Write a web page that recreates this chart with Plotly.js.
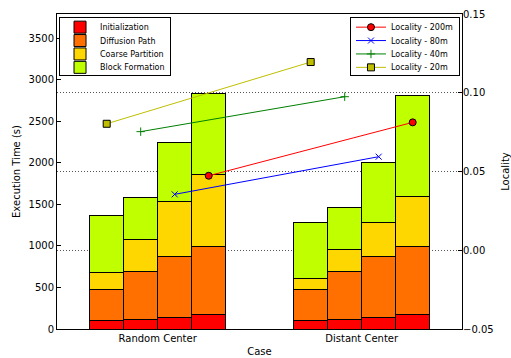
<!DOCTYPE html>
<html>
<head>
<meta charset="utf-8">
<script src="https://cdn.plot.ly/plotly-3.0.1.min.js"></script>
<style>
  html, body { margin: 0; padding: 0; background: #fff; }
  #chart { width: 511px; height: 358px; }
</style>
</head>
<body>
<div id="chart"></div>
<script>
// Cases on the x axis
const cases = ['Random Center', 'Distant Center'];
// Locality radius of the four runs in each case (one bar per run)
const radii = ['20m', '40m', '80m', '200m'];

// Execution time per phase (s), one array per case, runs in order 20m, 40m, 80m, 200m
const initRandom    = [100, 120, 144, 172];
const initDistant   = [100, 120, 144, 172];
const diffRandom    = [381, 574, 730, 826];
const diffDistant   = [381, 574, 730, 826];
const coarseRandom  = [196, 385, 657, 862];
const coarseDistant = [129, 268, 413, 593];
const blockRandom   = [687, 505, 714, 975];
const blockDistant  = [673, 505, 713, 1220];

// Locality per radius: [Random Center, Distant Center]
const loc200 = [0.0473, 0.0812];
const loc80  = [0.0355, 0.0594];
const loc40  = [0.0753, 0.0975];
const loc20  = [0.0803, 0.1195];

const barWidth = 1 / 6;
const offsets = radii.map((_, i) => (i - 1.5) * barWidth);
const barX = [];
cases.forEach((_, c) => offsets.forEach(o => barX.push(c + o)));

const font = 'DejaVu Sans, sans-serif';

function phase(name, a, b, color) {
  return {
    type: 'bar', name: name, x: barX, y: a.concat(b), width: barWidth,
    marker: { color: color, line: { color: '#000', width: 1 } },
    legend: 'legend', hoverinfo: 'name+y'
  };
}

function locality(name, vals, idx, color, symbol, msize, mline) {
  return {
    type: 'scatter', mode: 'lines+markers', name: name,
    x: cases.map((_, c) => c + offsets[idx]), y: vals, yaxis: 'y2',
    line: { color: color, width: 1 },
    marker: { color: color, symbol: symbol, size: msize, line: mline },
    legend: 'legend2'
  };
}

const data = [
  phase('Initialization', initRandom, initDistant, '#ff0000'),
  phase('Diffusion Path', diffRandom, diffDistant, '#ff7000'),
  phase('Coarse Partition', coarseRandom, coarseDistant, '#ffd700'),
  phase('Block Formation', blockRandom, blockDistant, '#bfff00'),
  locality('Locality - 200m', loc200, 3, '#ff0000', 'circle', 7, { color: '#000', width: 1 }),
  locality('Locality - 80m', loc80, 2, '#0000ff', 'x-thin', 6, { color: '#0000ff', width: 1 }),
  locality('Locality - 40m', loc40, 1, '#008000', 'cross-thin', 6, { color: '#008000', width: 1 }),
  locality('Locality - 20m', loc20, 0, '#bfbf00', 'square', 7, { color: '#000', width: 1 })
];

const layout = {
  width: 511, height: 358,
  margin: { l: 57, r: 49, t: 14, b: 29 },
  paper_bgcolor: '#fff', plot_bgcolor: '#fff',
  font: { family: font, size: 10, color: '#000' },
  barmode: 'stack',
  showlegend: true,
  xaxis: {
    range: [-0.4936, 1.4917],
    tickvals: [0, 1], ticktext: cases,
    ticks: '', showgrid: false, zeroline: false,
    showline: true, mirror: true, linecolor: '#000', linewidth: 1,
    tickfont: { size: 10 },
    title: { text: 'Case', font: { size: 10 }, standoff: 4 }
  },
  yaxis: {
    range: [0, 3790], dtick: 500,
    ticks: 'inside', ticklen: 4, tickcolor: '#000',
    showgrid: false, zeroline: false,
    showline: true, mirror: true, linecolor: '#000', linewidth: 1,
    tickfont: { size: 10 },
    title: { text: 'Execution Time (s)', font: { size: 10 }, standoff: 6 }
  },
  yaxis2: {
    overlaying: 'y', side: 'right',
    range: [-0.05, 0.15], dtick: 0.05, tickformat: '.2f',
    ticks: 'inside', ticklen: 4, tickcolor: '#000',
    showgrid: true, gridcolor: '#555', griddash: '1px,2px', gridwidth: 1,
    zeroline: false, showline: false,
    tickfont: { size: 10 },
    title: { text: 'Locality', font: { size: 10 }, standoff: 12 }
  },
  legend: {
    x: 0.005, y: 0.99, xanchor: 'left', yanchor: 'top',
    bgcolor: '#fff', bordercolor: '#000', borderwidth: 1,
    font: { size: 8 }, traceorder: 'normal', tracegroupgap: 0
  },
  legend2: {
    x: 0.995, y: 0.99, xanchor: 'right', yanchor: 'top',
    bgcolor: '#fff', bordercolor: '#000', borderwidth: 1,
    font: { size: 8 }, traceorder: 'normal', tracegroupgap: 0
  }
};

// Tighter legend rows than Plotly's minimum entry height
function compactLegends(gd) {
  const step = 13.4, lift = 5.5, boxH = 58;
  gd.querySelectorAll('g.legend, g.legend2').forEach(leg => {
    const items = leg.querySelectorAll('g.traces');
    if (!items.length) return;
    const parse = el => {
      const m = /translate\(\s*([-\d.e]+)[ ,]+([-\d.e]+)\s*\)/.exec(el.getAttribute('transform') || '');
      return m ? [parseFloat(m[1]), parseFloat(m[2])] : [0, 0];
    };
    const y0 = parse(items[0])[1];
    items.forEach((it, i) => {
      const p = parse(it);
      it.setAttribute('transform', 'translate(' + p[0] + ',' + (y0 - lift + i * step) + ')');
    });
    leg.querySelectorAll('rect.bg').forEach(bg => bg.setAttribute('height', boxH));
  });
}

Plotly.newPlot('chart', data, layout, { displayModeBar: false, staticPlot: true })
  .then(compactLegends);
</script>
</body>
</html>
